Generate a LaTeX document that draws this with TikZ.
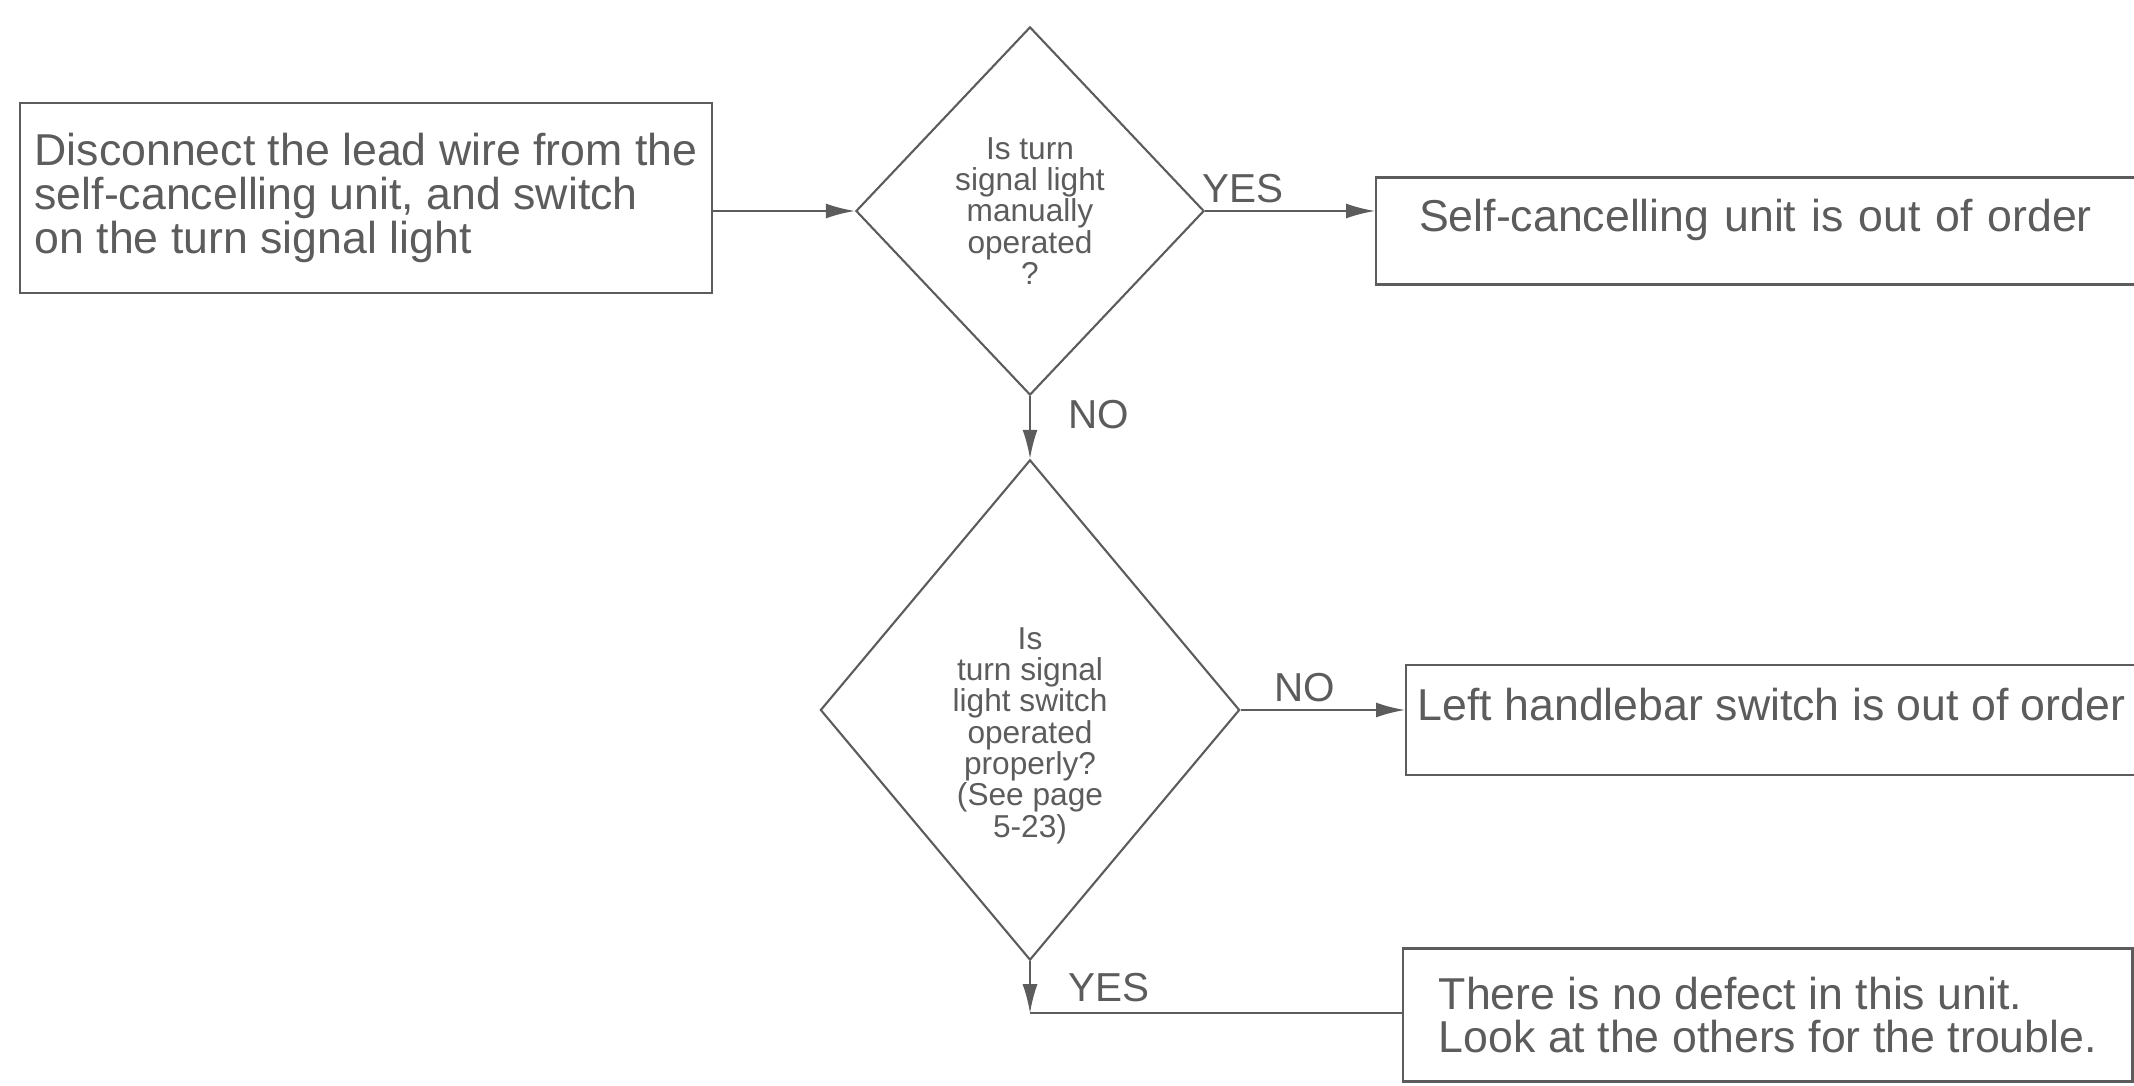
\documentclass[tikz,border=0pt]{standalone}
\usepackage{fontspec}
\setmainfont{Liberation Sans}
\usetikzlibrary{shapes.geometric,arrows.meta}
\definecolor{inkgray}{gray}{0.36}

\begin{document}
\begin{tikzpicture}[x=0.01cm, y=-0.01cm, color=inkgray, line width=0.6pt,
    >={Latex[length=2.9mm,width=1.5mm]},
    stepbox/.style={draw, rectangle, inner ysep=0pt, align=left, font=\fontsize{12.7}{12.4}\selectfont},
    endbox/.style={stepbox, anchor=west},
    check/.style={draw, diamond, inner sep=0pt, align=center, font=\fontsize{9}{8.9}\selectfont},
    answer/.style={inner sep=2pt, font=\fontsize{11.5}{13}\selectfont}]
    % page frame, the result boxes run off on the right
    \useasboundingbox (0,0) rectangle (2134,1086);
    \clip (0,0) rectangle (2134,1086);

    % first step and the two checks
    \node[stepbox, minimum width=6.92cm, minimum height=1.9cm] (disc) at (366,198)
        {Disconnect the lead wire from the\\ self-cancelling unit, and switch\\ on the turn signal light};
    \node[check, minimum width=3.48cm, minimum height=3.68cm] (manual) at (1030,211)
        {Is turn\\ signal light\\ manually\\ operated\\ ?};
    \node[check, aspect=0.84, minimum width=4.19cm, minimum height=5cm] (switch) at (1030,710)
        {\rule{0pt}{0.73cm}Is\\ turn signal\\ light switch\\ operated\\ properly?\\ (See page\\ 5-23)};

    % results
    \node[endbox, minimum height=1.07cm, inner xsep=0.43cm, text width=7.5cm,
        text height=0.33cm, text depth=0.32cm] (selfcancel) at (1375,231)
        {Self-cancelling unit is out of order};
    \node[endbox, minimum width=7.26cm, minimum height=1.1cm,
        text height=0.33cm, text depth=0.32cm] (handlebar) at (1405,720)
        {Left handlebar switch is out of order};
    \node[endbox, minimum width=7.29cm, minimum height=1.33cm] (nodefect) at (1402,1015)
        {There is no defect in this unit.\\ Look at the others for the trouble.};

    % connectors
    \draw[->] (disc.east |- manual.west) -- (manual.west);
    \draw[->] (manual.east) -- (manual.east -| selfcancel.west)
        node[answer, pos=0.22, above] (yesmanual) {YES};
    \draw[->] (manual.south) -- (switch.north)
        node[answer, pos=0.3, right=0.3cm] (nomanual) {NO};
    \draw[->] (switch.east) -- (switch.east -| handlebar.west)
        node[answer, pos=0.39, above] (noswitch) {NO};
    \draw[->] (switch.south) -- ++(0,52) coordinate (yesturn)
        node[answer, pos=0.5, right=0.3cm] (yesswitch) {YES};
    \draw (yesturn) -- (yesturn -| nodefect.west);
\end{tikzpicture}
\end{document}
